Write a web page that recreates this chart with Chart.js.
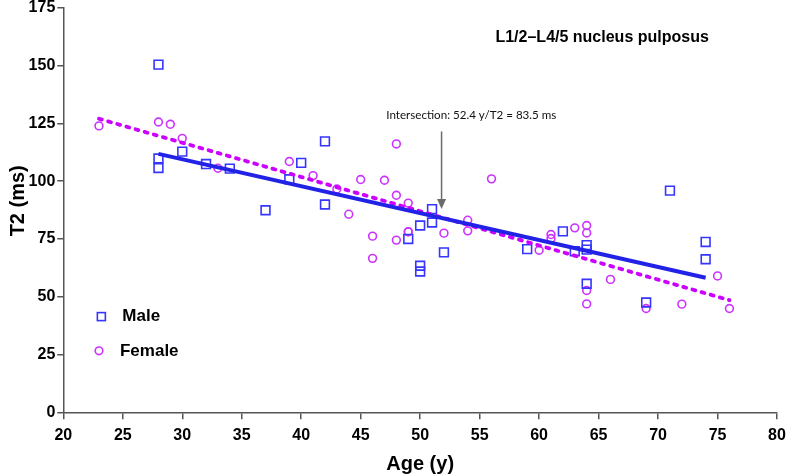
<!DOCTYPE html>
<html>
<head>
<meta charset="utf-8">
<script src="https://cdn.jsdelivr.net/npm/chart.js@4/dist/chart.umd.min.js"></script>
<style>
  html, body { margin: 0; padding: 0; background: #fff; }
  #wrap { width: 787px; height: 476px; position: relative; }
</style>
</head>
<body>
<div id="wrap"><canvas id="t2Chart"></canvas></div>
<script>
// data
const maleAge = [28, 28, 28, 30, 32, 34, 37, 39, 40, 42, 42, 49, 50, 50, 50, 51, 51, 52, 59, 62, 63, 64, 64, 64, 69, 71, 74, 74];
const maleT2 = [150.4, 109.8, 105.7, 112.8, 107.4, 105.4, 87.4, 100.8, 107.9, 117.2, 89.9, 75.0, 80.8, 63.4, 60.9, 87.9, 82.1, 69.2, 70.6, 78.3, 69.7, 72.3, 70.4, 55.6, 47.5, 95.9, 73.7, 66.2];
const femaleAge = [23, 28, 29, 30, 33, 39, 41, 43, 44, 45, 46, 46, 47, 48, 48, 48, 49, 49, 49, 52, 54, 54, 56, 60, 61, 61, 63, 64, 64, 64, 64, 66, 69, 72, 75, 76];
const femaleT2 = [123.9, 125.6, 124.6, 118.5, 105.6, 108.5, 102.4, 96.6, 85.7, 100.7, 76.2, 66.6, 100.4, 116.1, 93.9, 74.5, 90.5, 78.1, 78.1, 77.5, 83.1, 78.5, 101.0, 70.1, 76.9, 75.2, 79.8, 80.8, 77.6, 52.7, 46.9, 57.5, 44.9, 46.8, 59.0, 44.9];
const maleFitAge = [28, 74];
const maleFitT2 = [111.8, 58.2];
const femaleFitAge = [23, 76];
const femaleFitT2 = [127, 48.5];
const xTicks = [20, 25, 30, 35, 40, 45, 50, 55, 60, 65, 70, 75, 80];
const yTicks = [0, 25, 50, 75, 100, 125, 150, 175];

const maleColor = '#3535ff';
const maleLine = '#2222e6';
const femaleColor = '#cc33ff';
const femaleLine = '#cc00ff';
const boldFont = '"Liberation Sans", Arial, sans-serif';

function pts(xs, ys) {
    return xs.map((x, i) => ({ x: x, y: ys[i] }));
}

// titles, arrow and legend drawn on top of the plot
const extras = {
    id: 'extras',
    afterDatasetsDraw(chart) {
        const c = chart.ctx;
        const xs = chart.scales.x, ys = chart.scales.y;
        c.save();

        c.fillStyle = '#000';
        c.textAlign = 'center';
        c.textBaseline = 'middle';

        // y axis title
        c.save();
        c.font = 'bold 20px ' + boldFont;
        c.translate(18, ys.getPixelForValue(91.5));
        c.rotate(-Math.PI / 2);
        c.fillText('T2 (ms)', 0, 0);
        c.restore();

        c.font = 'bold 16px ' + boldFont;
        c.fillText('L1/2\u2013L4/5 nucleus pulposus', xs.getPixelForValue(65.3), ys.getPixelForValue(162.2));

        const label = 'Intersection: 52.4 y/T2 = 83.5 ms';
        c.font = '14px Lato, sans-serif';
        const size = 14 * 170 / c.measureText(label).width;
        c.font = size.toFixed(1) + 'px Lato, sans-serif';
        c.fillStyle = '#111';
        c.fillText(label, xs.getPixelForValue(54.3), ys.getPixelForValue(128.6));

        // arrow
        const ax = xs.getPixelForValue(51.8);
        const ay0 = ys.getPixelForValue(121.5);
        const ay1 = ys.getPixelForValue(88);
        c.strokeStyle = '#6b6b6b';
        c.fillStyle = '#6b6b6b';
        c.lineWidth = 1.5;
        c.beginPath();
        c.moveTo(ax, ay0);
        c.lineTo(ax, ay1 - 8);
        c.stroke();
        c.beginPath();
        c.moveTo(ax - 4.5, ay1 - 10);
        c.lineTo(ax + 4.5, ay1 - 10);
        c.lineTo(ax, ay1);
        c.closePath();
        c.fill();

        // legend
        c.font = 'bold 17px ' + boldFont;
        c.textAlign = 'left';
        c.fillStyle = '#000';
        const mx = xs.getPixelForValue(23.2), my = ys.getPixelForValue(41.4);
        c.strokeStyle = maleColor;
        c.lineWidth = 1.6;
        c.strokeRect(mx - 4, my - 4, 8, 8);
        c.fillText('Male', mx + 21, my);
        const fx = xs.getPixelForValue(23.0), fy = ys.getPixelForValue(26.6);
        c.strokeStyle = femaleColor;
        c.beginPath();
        c.arc(fx, fy, 3.8, 0, Math.PI * 2);
        c.stroke();
        c.fillText('Female', fx + 21, fy);
        c.restore();
    }
};

const ctx = document.getElementById('t2Chart').getContext('2d');
const t2Chart = new Chart(ctx, {
    type: 'scatter',
    data: {
        datasets: [{
            label: 'Male fit',
            type: 'line',
            data: pts(maleFitAge, maleFitT2),
            borderColor: maleLine,
            borderWidth: 4,
            pointRadius: 0,
            fill: false
        }, {
            label: 'Female fit',
            type: 'line',
            data: pts(femaleFitAge, femaleFitT2),
            borderColor: femaleLine,
            borderWidth: 3.8,
            borderDash: [3, 6.5],
            borderCapStyle: 'round',
            pointRadius: 0,
            fill: false
        }, {
            label: 'Male',
            data: pts(maleAge, maleT2),
            pointStyle: 'rect',
            pointRadius: 6.2,
            borderColor: maleColor,
            backgroundColor: 'rgba(255,255,255,0)',
            borderWidth: 1.6
        }, {
            label: 'Female',
            data: pts(femaleAge, femaleT2),
            pointStyle: 'circle',
            pointRadius: 3.9,
            borderColor: femaleColor,
            backgroundColor: 'rgba(255,255,255,0)',
            borderWidth: 1.6
        }]
    },
    options: {
        responsive: true,
        maintainAspectRatio: false,
        animation: false,
        layout: { padding: { top: 7, right: 10, left: 0, bottom: 0 } },
        plugins: {
            legend: { display: false },
            tooltip: { enabled: false }
        },
        scales: {
            x: {
                type: 'linear',
                min: 20,
                max: 80,
                afterBuildTicks: (s) => { s.ticks = xTicks.map(v => ({ value: v })); },
                afterFit: (s) => { s.height = 63.7; s.paddingLeft = 0; s.paddingRight = 0; },
                border: { color: '#555', width: 1.5 },
                grid: { drawOnChartArea: false, drawTicks: true, tickLength: 7, color: '#555', lineWidth: 1.5 },
                ticks: {
                    padding: 7,
                    color: '#000',
                    font: { family: boldFont, size: 16, weight: 'bold' }
                },
                title: {
                    display: true,
                    text: 'Age (y)',
                    color: '#000',
                    padding: { top: 0, bottom: 0 },
                    font: { family: boldFont, size: 20, weight: 'bold' }
                }
            },
            y: {
                type: 'linear',
                min: 0,
                max: 175,
                afterBuildTicks: (s) => { s.ticks = yTicks.map(v => ({ value: v })); },
                afterFit: (s) => { s.width = 63.3; s.paddingTop = 0; s.paddingBottom = 0; },
                border: { color: '#555', width: 1.5 },
                grid: { drawOnChartArea: false, drawTicks: true, tickLength: 6, color: '#555', lineWidth: 1.5 },
                ticks: {
                    padding: 2,
                    color: '#000',
                    font: { family: boldFont, size: 16, weight: 'bold' }
                }
            }
        }
    },
    plugins: [extras]
});
</script>
</body>
</html>
